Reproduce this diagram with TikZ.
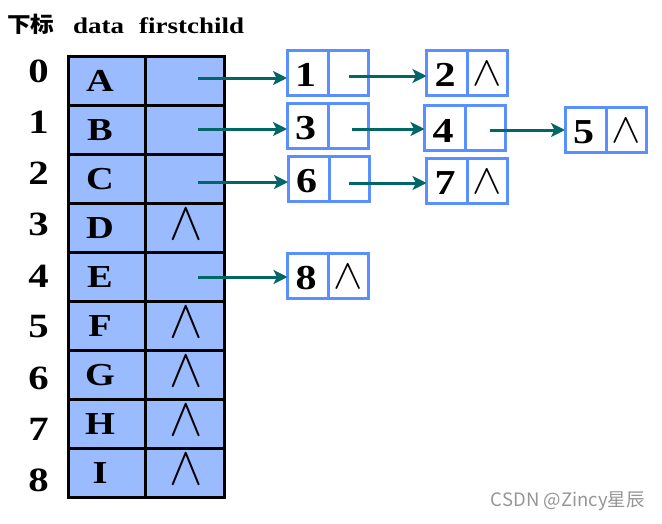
\documentclass[tikz,border=0pt]{standalone}
\usepackage{fontspec}
\usepackage{graphicx}
\usetikzlibrary{arrows.meta}
\newfontfamily\tnr{Liberation Serif}[FakeStretch=1.2]
\newfontfamily\cjk{Noto Sans CJK SC}
\newfontfamily\cjkw{Noto Sans CJK SC}[FakeStretch=1.1]
\definecolor{cellblue}{RGB}{155,187,255}
\definecolor{boxblue}{RGB}{90,143,255}
\definecolor{arrowteal}{RGB}{0,102,102}
\definecolor{wmgray}{RGB}{150,150,150}
\tikzset{
  tcell/.style={draw=black, line width=3pt, fill=cellblue, minimum height=49.1pt, inner sep=0pt, outer sep=0pt},
  dcell/.style={tcell, minimum width=77pt},
  fcell/.style={tcell, minimum width=79pt},
  bcell/.style={draw=boxblue, line width=3pt, fill=white, minimum height=45pt, minimum width=41pt, inner sep=0pt, outer sep=0pt},
  letter/.style={font=\tnr\bfseries\fontsize{32}{32}\selectfont, inner sep=0pt},
  digit/.style={font=\tnr\bfseries\fontsize{35}{35}\selectfont, inner sep=0pt},
  idx/.style={font=\tnr\bfseries\fontsize{34}{34}\selectfont, inner sep=0pt},
  head/.style={font=\tnr\bfseries\fontsize{22.5}{22.5}\selectfont, inner sep=0pt, anchor=base west},
  nullT/.style={inner sep=0pt},
  link/.style={draw=arrowteal, line width=3pt, -{Stealth[length=14pt,width=14pt,inset=3.5pt]}},
}
\newcommand{\tnull}{\scalebox{5}[5.4]{$\wedge$}}
\newcommand{\bnull}{\scalebox{4.4}[4.2]{$\wedge$}}
\begin{document}
\begin{tikzpicture}[x=1pt,y=-1pt]
\useasboundingbox (0,0) rectangle (662,523);
% header
\node[font=\cjkw\bfseries\fontsize{21.5}{21.5}\selectfont, inner sep=0pt, anchor=west] (hidx) at (7,24) {下标};
\node[head] (hdata) at (73,33) {data};
\node[head] (hfc) at (139,33) {firstchild};
% table
\foreach \i/\L/\n in {0/A/0,1/B/0,2/C/0,3/D/1,4/E/0,5/F/1,6/G/1,7/H/1,8/I/1} {
  \pgfmathsetmacro\yc{56+49.1*(\i+0.5)}
  \node[dcell] (d\i) at (106.5,\yc) {};
  \node[fcell] (f\i) at (184.5,\yc) {};
  \node[letter] (L\i) at (100,\yc) {\L};
  \ifnum\n=1 \node[nullT] (n\i) at (186,\yc-3.5) {\tnull}; \fi
  \pgfmathsetmacro\yi{71.5+51.1*\i}
  \node[idx] (i\i) at (38.5,\yi) {\i};
}
% list boxes: index, left cell center x, center y, null?
\foreach \k/\x/\y/\n in {1/307.5/72.5/0, 2/447/72.5/1, 3/307.5/125.5/0, 4/445/128/0, 5/585.5/129.5/1, 6/308.5/179/0, 7/447/181/1, 8/308/276/1} {
  \node[bcell] (b\k a) at (\x,\y) {};
  \node[bcell, anchor=west, minimum width=40pt] (b\k b) at (b\k a.east) {};
  \node[digit] (t\k) at (\x-2,\y+2.5) {\k};
  \ifnum\n=1 \node[nullT] (z\k) at ([yshift=-1pt]b\k b.center) {\bnull}; \fi
}
% arrows from table
\coordinate (s0) at (198,78);
\coordinate (s1) at (198,129);
\coordinate (s2) at (198,182);
\coordinate (s4) at (198,277);
\draw[link] (s0) -- (s0 -| b1a.west);
\draw[link] (s1) -- (s1 -| b3a.west);
\draw[link] (s2) -- (s2 -| b6a.west);
\draw[link] (s4) -- (s4 -| b8a.west);
% arrows between boxes
\coordinate (p1) at (349,76);
\coordinate (p3) at (352,129);
\coordinate (p4) at (490,130);
\coordinate (p6) at (349,183);
\draw[link] (p1) -- (p1 -| b2a.west);
\draw[link] (p3) -- (p3 -| b4a.west);
\draw[link] (p4) -- (p4 -| b5a.west);
\draw[link] (p6) -- (p6 -| b7a.west);
% watermark
\node[font=\cjk\fontsize{18.5}{18.5}\selectfont, text=wmgray, inner sep=0pt, anchor=east] (wm) at (645,501) {CSDN @Zincy星辰};
\end{tikzpicture}
\end{document}
